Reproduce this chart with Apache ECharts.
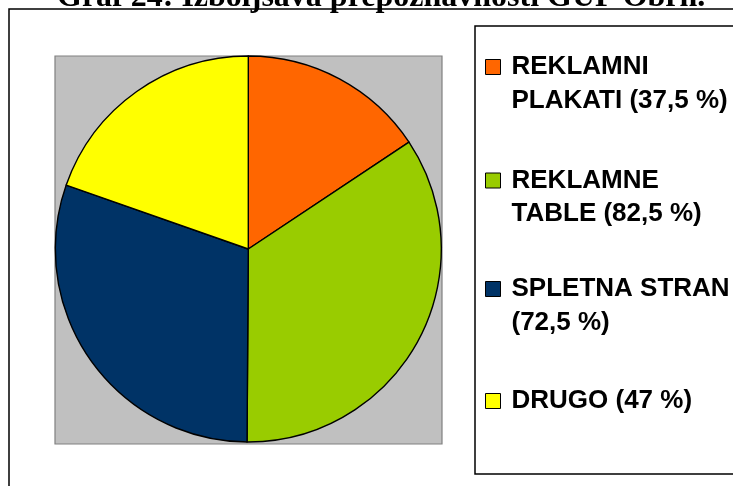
<!DOCTYPE html>
<html>
<head>
<meta charset="utf-8">
<script src="https://cdn.jsdelivr.net/npm/echarts@6/dist/echarts.min.js"></script>
<style>
  html, body { margin: 0; padding: 0; background: #fff; }
  #chart { width: 733px; height: 486px; }
</style>
</head>
<body>
<div id="chart"></div>
<script>
const categories = ['REKLAMNI PLAKATI', 'REKLAMNE TABLE', 'SPLETNA STRAN', 'DRUGO']
// legend text, split where the original wraps
const legendLines = [
  ['REKLAMNI', 'PLAKATI (37,5 %)'],
  ['REKLAMNE', 'TABLE (82,5 %)'],
  ['SPLETNA STRAN', '(72,5 %)'],
  ['DRUGO (47 %)']
]
const values = [37.5, 82.5, 72.5, 47]
const colors = ['#ff6600', '#99cc00', '#003366', '#ffff00']
// y of the first text line's middle for every legend entry
const legendMids = [67, 180.5, 289, 401]
const lineH = 33.5

const chart = echarts.init(document.getElementById('chart'))

const legends = categories.map((name, i) => {
  const lines = legendLines[i]
  const multi = lines.length > 1
  // two-line entries get a blank line on top so the marker sits beside the first line
  const text = multi ? ' \n' + lines.join('\n') : lines[0]
  return {
    data: [name],
    left: 485,
    top: multi ? legendMids[i] - lineH * 1.5 : legendMids[i] - lineH / 2,
    padding: 0,
    itemWidth: 15,
    itemHeight: 15,
    icon: 'rect',
    selectedMode: false,
    itemStyle: { borderColor: '#000', borderWidth: 1 },
    formatter: () => text,
    textStyle: {
      fontFamily: 'Liberation Sans',
      fontWeight: 'bold',
      fontSize: 26,
      lineHeight: lineH,
      color: '#000',
      padding: [0, 0, 0, 6]
    }
  }
})

chart.setOption({
  animation: false,
  title: {
    text: 'Graf 24: Izboljšava prepoznavnosti GUP Obrh.',
    left: 57,
    top: -18,
    padding: 0,
    textStyle: {
      fontFamily: 'Liberation Serif',
      fontWeight: 'bold',
      fontSize: 32,
      color: '#000'
    }
  },
  graphic: [
    { type: 'rect', z: -10, shape: { x: 9, y: 9, width: 800, height: 600 },
      style: { fill: '#fff', stroke: '#000', lineWidth: 1.5 } },
    { type: 'rect', z: -5, shape: { x: 55, y: 56, width: 387, height: 388 },
      style: { fill: '#c0c0c0', stroke: '#808080', lineWidth: 1.2 } },
    { type: 'rect', z: -5, shape: { x: 475, y: 26, width: 300, height: 448 },
      style: { fill: '#fff', stroke: '#000', lineWidth: 1.5 } }
  ],
  legend: legends,
  series: [{
    type: 'pie',
    center: [248.3, 249],
    radius: 193,
    startAngle: 90,
    clockwise: true,
    label: { show: false },
    labelLine: { show: false },
    emphasis: { disabled: true },
    itemStyle: { borderColor: '#000', borderWidth: 1.4 },
    data: categories.map((name, i) => ({
      name,
      value: values[i],
      itemStyle: { color: colors[i] }
    }))
  }]
})
</script>
</body>
</html>
